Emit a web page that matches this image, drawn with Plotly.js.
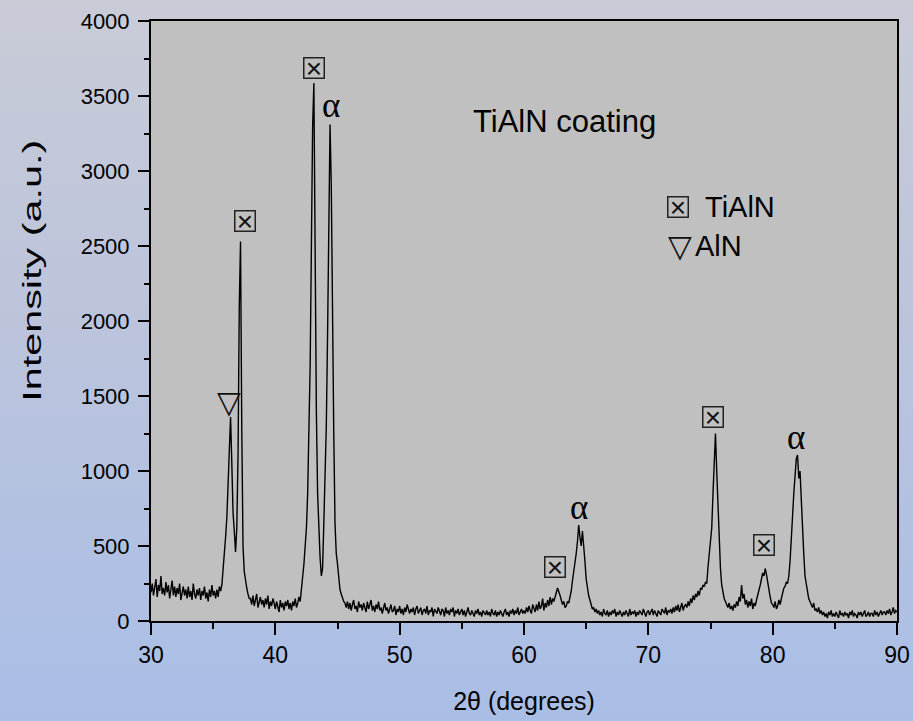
<!DOCTYPE html>
<html>
<head>
<meta charset="utf-8">
<script src="https://cdn.plot.ly/plotly-3.0.1.min.js"></script>
<style>
html,body{margin:0;padding:0;width:913px;height:721px;overflow:hidden;}
body{background:linear-gradient(to bottom,#c9ccd7 0%,#bcc4dc 45%,#a9bee6 100%);}
#chart{width:913px;height:721px;}
</style>
</head>
<body>
<div id="chart"></div>
<script>
// 2θ grid: start and step (degrees)
const twoThetaStart = 30;
const twoThetaStep = 0.1;
const intensity = [
  190,250,170,230,280,160,240,200,300,180,   // 30
  220,170,260,190,240,150,210,270,170,230,   // 31
  160,220,180,250,140,200,230,170,210,150,   // 32
  230,160,200,140,250,180,150,210,170,220,   // 33
  140,200,170,230,150,190,130,210,160,240,   // 34
  170,200,150,210,160,230,200,240,340,400,   // 35
  560,690,900,1200,1360,1050,720,600,460,620,// 36
  1100,2100,2530,1300,500,330,260,220,180,150,// 37
  150,110,170,100,140,180,90,130,160,110,    // 38
  140,90,150,110,170,80,130,100,150,120,     // 39
  80,130,100,60,140,90,120,70,130,100,       // 40
  140,80,120,70,130,100,150,90,120,160,      // 41
  130,200,280,380,500,620,850,1200,1700,2500,// 42
  3300,3587,2400,1400,850,600,420,300,350,650,// 43
  1000,1300,1900,2800,3310,2900,1800,1250,650,450,// 44
  380,290,210,180,150,130,120,90,130,80,     // 45
  120,70,110,140,80,100,60,130,90,110,       // 46
  70,120,90,60,130,80,110,140,70,100,        // 47
  60,110,80,130,70,90,50,100,120,70,         // 48
  90,50,80,110,60,70,100,40,80,60,           // 49
  100,50,80,40,90,60,110,70,50,80,           // 50
  60,90,40,80,100,50,70,90,40,70,            // 51
  80,50,100,40,70,60,90,30,80,60,            // 52
  50,90,60,40,80,70,30,90,50,70,             // 53
  40,80,60,90,30,70,50,80,40,60,             // 54
  80,40,70,30,60,90,50,40,70,50,             // 55
  30,70,50,80,40,60,30,70,50,40,             // 56
  70,40,60,30,80,50,40,70,30,60,             // 57
  40,70,50,30,60,80,40,60,30,70,             // 58
  50,80,40,70,50,90,40,60,80,50,             // 59
  70,50,90,60,100,70,50,110,80,60,           // 60
  110,70,130,80,100,150,70,120,90,140,       // 61
  100,160,110,150,130,170,190,220,200,170,   // 62
  140,110,130,90,100,130,120,160,200,270,    // 63
  320,370,450,530,640,560,500,600,520,400,   // 64
  280,220,170,140,100,80,90,60,80,50,        // 65
  70,40,60,30,80,50,40,70,30,60,             // 66
  40,70,50,80,30,60,40,70,50,30,             // 67
  60,40,70,50,30,80,40,60,50,70,             // 68
  30,60,40,70,50,40,80,50,30,60,             // 69
  70,40,60,80,40,70,50,30,70,50,             // 70
  40,80,60,50,90,40,70,60,80,50,             // 71
  90,60,100,70,110,60,90,120,70,100,         // 72
  110,90,130,100,150,120,170,140,180,160,    // 73
  200,170,220,210,240,230,260,250,360,450,   // 74
  530,620,850,1100,1250,1000,750,560,350,240,// 75
  180,150,130,110,90,120,80,100,70,110,      // 76
  90,130,100,160,130,240,150,180,110,140,    // 77
  90,130,100,150,80,120,100,140,170,210,     // 78
  240,280,320,300,350,310,250,200,160,120,   // 79
  110,90,130,80,100,140,110,150,190,220,     // 80
  230,260,250,300,400,520,700,850,1000,1080, // 81
  1107,950,1000,780,620,450,300,250,180,150, // 82
  130,110,90,120,70,80,60,90,50,70,          // 83
  40,60,30,50,20,60,40,70,30,50,             // 84
  30,60,40,20,70,40,50,30,60,40,             // 85
  50,20,60,40,70,30,50,40,20,60,             // 86
  40,60,30,50,70,30,40,60,30,50,             // 87
  50,30,70,40,60,30,50,70,40,60,             // 88
  60,40,70,50,80,40,60,90,50,70,             // 89
  60                                          // 90
];
// Peak label positions (2θ, intensity)
const tialnX = [43.14, 37.52, 62.52, 75.24, 79.30];   // ⊠ TiAlN
const tialnY = [3690, 2667, 363, 1357, 508];
const alphaX = [44.50, 64.45, 81.91];                  // α
const alphaY = [3440, 760, 1223];
const alnX = [36.29];                                  // ▽ AlN
const alnY = [1460];
// Legend / caption
const legendNames = ['TiAlN', 'AlN'];
const legendSymX = [72.40, 72.53];
const legendTextX = [74.40, 73.62];
const legendY = [2757, 2497];
const caption = 'TiAlN coating';
const captionX = 63.27, captionY = 3327;
const xTitle = '2\u03B8 (degrees)';
const yTitle = 'Intensity (a.u.)';
const xTicks = [30,40,50,60,70,80,90];
const yTicks = [0,500,1000,1500,2000,2500,3000,3500,4000];

const trace = {
  type: 'scatter', mode: 'lines',
  x0: twoThetaStart, dx: twoThetaStep, y: intensity,
  line: {color: '#000000', width: 1.4},
  hoverinfo: 'skip', showlegend: false
};

const SANS = 'Liberation Sans, Arial, sans-serif';
function boxMark(x, y) {
  return {x: x, y: y, xref: 'x', yref: 'y', text: '\u00D7', showarrow: false,
    width: 19, height: 19, borderpad: 0, borderwidth: 1.5, bordercolor: '#222',
    font: {family: SANS, size: 28, color: '#111'}, valign: 'middle', align: 'center'};
}
function triMark(x, y) {
  return {x: x, y: y, xref: 'x', yref: 'y', text: '\u25BD', showarrow: false,
    font: {family: 'DejaVu Sans, sans-serif', size: 31, color: '#111'}};
}
const annotations = [];
tialnX.forEach((x, i) => annotations.push(boxMark(x, tialnY[i])));
alnX.forEach((x, i) => annotations.push(triMark(x, alnY[i])));
alphaX.forEach((x, i) => annotations.push({x: x, y: alphaY[i], xref: 'x', yref: 'y', text: '\u03B1',
  showarrow: false, font: {family: 'Liberation Serif, DejaVu Serif, serif', size: 35, color: '#000'}}));
annotations.push({x: captionX, y: captionY, xref: 'x', yref: 'y', text: caption, showarrow: false,
  font: {family: SANS, size: 31, color: '#000'}});
annotations.push(boxMark(legendSymX[0], legendY[0]));
annotations.push(triMark(legendSymX[1], legendY[1]));
legendNames.forEach((n, i) => annotations.push({x: legendTextX[i], y: legendY[i], xref: 'x', yref: 'y',
  xanchor: 'left', yanchor: 'middle', text: n, showarrow: false,
  font: {family: SANS, size: 29, color: '#000'}}));
// y-axis title (placed as in the reference, above the plot centre)
annotations.push({x: -0.1595, y: 0.583, xref: 'paper', yref: 'paper', xanchor: 'center', yanchor: 'middle',
  text: yTitle, textangle: -90, showarrow: false, font: {family: SANS, size: 26, color: '#000'}});

const layout = {
  width: 913, height: 721,
  margin: {l: 151, r: 16, t: 21, b: 100},
  paper_bgcolor: 'rgba(0,0,0,0)',
  plot_bgcolor: '#c0c0c0',
  font: {family: SANS, color: '#000'},
  xaxis: {
    range: [30, 90], tickvals: xTicks, ticks: 'outside', ticklen: 12, tickwidth: 2, tickcolor: '#000',
    showline: true, linecolor: '#000', linewidth: 2, mirror: true, showgrid: false, zeroline: false,
    tickfont: {size: 23}, ticklabelstandoff: 0,
    minor: {ticks: 'outside', ticklen: 6, tickwidth: 2, tickcolor: '#000', dtick: 5, showgrid: false},
    title: {text: xTitle, font: {size: 25}, standoff: 26}
  },
  yaxis: {
    range: [0, 4000], tickvals: yTicks, ticks: 'outside', ticklen: 11, tickwidth: 2, tickcolor: '#000',
    showline: true, linecolor: '#000', linewidth: 2, mirror: true, showgrid: false, zeroline: false,
    tickfont: {size: 22}, ticklabelstandoff: 4,
    minor: {ticks: 'outside', ticklen: 5, tickwidth: 2, tickcolor: '#000', dtick: 250, showgrid: false}
  },
  annotations: annotations
};

Plotly.newPlot('chart', [trace], layout, {displayModeBar: false, staticPlot: true}).then(() => {
  // the reference's y title is drawn elongated along its reading direction
  document.querySelectorAll('#chart text.annotation-text').forEach(t => {
    if (t.textContent === yTitle) {
      t.setAttribute('textLength', '262');
      t.setAttribute('lengthAdjust', 'spacingAndGlyphs');
    }
  });
});
</script>
</body>
</html>
